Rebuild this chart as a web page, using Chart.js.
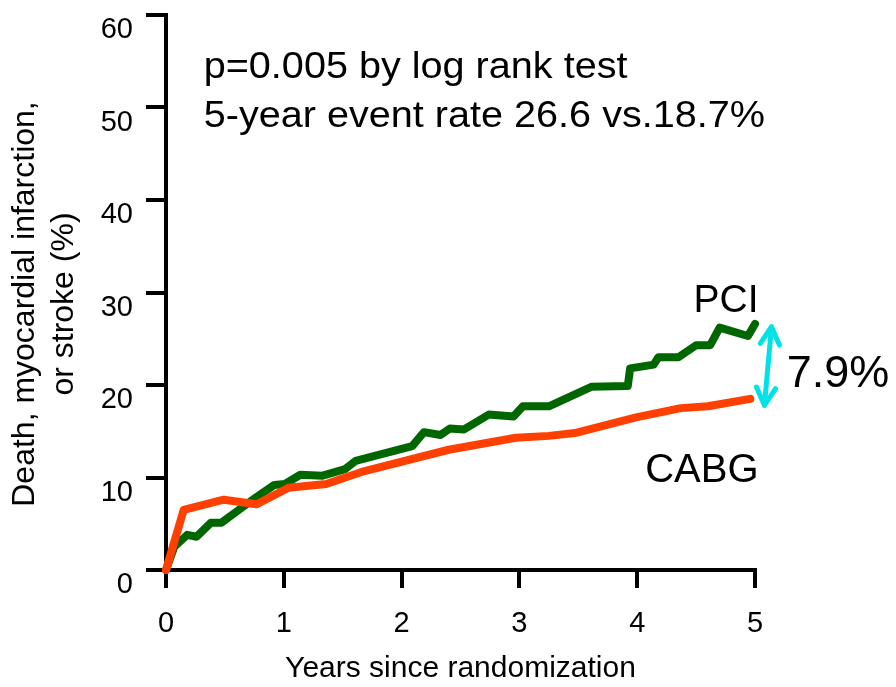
<!DOCTYPE html>
<html>
<head>
<meta charset="utf-8">
<script src="https://cdn.jsdelivr.net/npm/chart.js@4.4.1/dist/chart.umd.min.js"></script>
<style>
    html, body { margin: 0; padding: 0; background: #fff; }
    canvas { display: block; }
</style>
</head>
<body>
<canvas id="grafica-eventos" width="896" height="687"></canvas>
<script>
// Datos (años, % de eventos)
const pciAnios = [0, 0.07, 0.18, 0.26, 0.38, 0.47, 0.65, 0.76, 0.92, 1.01, 1.14, 1.33, 1.52, 1.61, 2.09, 2.19, 2.33, 2.41, 2.53, 2.74, 2.95, 3.03, 3.25, 3.61, 3.92, 3.94, 4.14, 4.18, 4.35, 4.50, 4.62, 4.70, 4.94, 5.0]
const pciTasa = [0, 2.5, 3.8, 3.6, 5.1, 5.1, 6.8, 7.8, 9.2, 9.3, 10.3, 10.2, 10.9, 11.8, 13.4, 14.9, 14.6, 15.3, 15.2, 16.8, 16.6, 17.7, 17.7, 19.8, 19.9, 21.8, 22.2, 23.0, 23.0, 24.3, 24.3, 26.2, 25.3, 26.6]
const cabgAnios = [0, 0.15, 0.49, 0.77, 1.04, 1.36, 1.66, 2.40, 2.97, 3.25, 3.47, 3.99, 4.37, 4.60, 4.96]
const cabgTasa = [0, 6.5, 7.6, 7.1, 8.9, 9.3, 10.6, 13.0, 14.3, 14.5, 14.8, 16.5, 17.5, 17.7, 18.5]

const ticksX = [0, 1, 2, 3, 4, 5]
const ticksY = [0, 10, 20, 30, 40, 50, 60]

const tituloX = "Years since randomization"
const tituloY = ["Death, myocardial infarction,", "or stroke (%)"]
const notas = ["p=0.005 by log rank test", "5-year event rate 26.6 vs.18.7%"]
const diferencia = "7.9%"

const fuente = "'Liberation Sans', Arial, Helvetica, sans-serif"

// Textos y flecha sobre la gráfica
const anotaciones = {
    id: "anotaciones",
    afterDraw(chart) {
        const ctx = chart.ctx
        const x = chart.scales.x
        const y = chart.scales.y
        ctx.save()
        ctx.fillStyle = "#000"

        // Título del eje Y (dos líneas, rotado)
        ctx.save()
        ctx.translate(0, 304)
        ctx.rotate(-Math.PI / 2)
        ctx.font = "32px " + fuente
        ctx.textAlign = "center"
        ctx.textBaseline = "middle"
        ctx.fillText(tituloY[0], 0, 25)
        ctx.fillText(tituloY[1], 0, 64)
        ctx.restore()

        // Notas arriba (un poco ensanchadas como en el original)
        ctx.font = "36px " + fuente
        ctx.textAlign = "left"
        ctx.textBaseline = "alphabetic"
        notas.forEach((nota, i) => {
            ctx.save()
            ctx.translate(x.getPixelForValue(0.32), y.getPixelForValue(i === 0 ? 53.2 : 47.9))
            ctx.scale(1.1, 1)
            ctx.fillText(nota, 0, 0)
            ctx.restore()
        })

        // Etiquetas de las curvas
        ctx.textAlign = "right"
        ctx.font = "39px " + fuente
        ctx.fillText(chart.data.datasets[1].label, x.getPixelForValue(5.03), y.getPixelForValue(27.9))
        ctx.font = "40px " + fuente
        ctx.fillText(chart.data.datasets[0].label, x.getPixelForValue(5.03), y.getPixelForValue(9.5))
        ctx.textAlign = "left"
        ctx.font = "45px " + fuente
        ctx.fillText(diferencia, x.getPixelForValue(5.27), y.getPixelForValue(19.8))

        // Flecha doble
        const x1 = x.getPixelForValue(5.14), y1 = y.getPixelForValue(26.3)
        const x2 = x.getPixelForValue(5.08), y2 = y.getPixelForValue(17.8)
        const ang = Math.atan2(y2 - y1, x2 - x1)
        const punta = (px, py, a) => {
            ctx.moveTo(px + 20 * Math.cos(a + 0.5), py + 20 * Math.sin(a + 0.5))
            ctx.lineTo(px, py)
            ctx.lineTo(px + 20 * Math.cos(a - 0.5), py + 20 * Math.sin(a - 0.5))
        }
        ctx.strokeStyle = "#00e3e6"
        ctx.lineWidth = 5
        ctx.lineCap = "round"
        ctx.lineJoin = "round"
        ctx.beginPath()
        ctx.moveTo(x1, y1)
        ctx.lineTo(x2, y2)
        punta(x1, y1, ang)
        punta(x2, y2, ang + Math.PI)
        ctx.stroke()

        ctx.restore()
    }
}

const ctx = document.getElementById("grafica-eventos")
new Chart(ctx, {
    type: "line",
    data: {
        datasets: [{
            label: "CABG",
            data: cabgAnios.map((anio, i) => ({ x: anio, y: cabgTasa[i] })),
            borderColor: "#ff4000",
            borderWidth: 8,
            tension: 0,
            clip: false,
        },
        {
            label: "PCI",
            data: pciAnios.map((anio, i) => ({ x: anio, y: pciTasa[i] })),
            borderColor: "#006600",
            borderWidth: 8,
            tension: 0,
            clip: false,
        }]
    },
    options: {
        responsive: false,
        animation: false,
        layout: { padding: { top: 15, right: 141, left: 0, bottom: 0 } },
        elements: {
            point: { radius: 0 },
            line: { borderCapStyle: "round", borderJoinStyle: "round" }
        },
        plugins: {
            legend: { display: false },
            tooltip: { enabled: false }
        },
        scales: {
            x: {
                type: "linear",
                min: 0,
                max: 5,
                afterBuildTicks: eje => { eje.ticks = ticksX.map(value => ({ value })) },
                afterFit: eje => { eje.height = 117; eje.paddingLeft = 0; eje.paddingRight = 0 },
                grid: { drawOnChartArea: false, tickLength: 18, lineWidth: 4, color: "#000" },
                border: { color: "#000", width: 4 },
                ticks: { color: "#000", padding: 19, font: { family: fuente, size: 29 } },
                title: { display: true, text: tituloX, color: "#000", padding: { top: 0, bottom: 0 }, font: { family: fuente, size: 30 } }
            },
            y: {
                type: "linear",
                min: 0,
                max: 60,
                afterBuildTicks: eje => { eje.ticks = ticksY.map(value => ({ value })) },
                afterFit: eje => { eje.width = 166; eje.paddingTop = 0; eje.paddingBottom = 0 },
                grid: { drawOnChartArea: false, tickLength: 20, lineWidth: 4, color: "#000" },
                border: { color: "#000", width: 4 },
                ticks: { color: "#000", padding: 13, labelOffset: 15, font: { family: fuente, size: 29 } }
            }
        }
    },
    plugins: [anotaciones]
})
</script>
</body>
</html>
